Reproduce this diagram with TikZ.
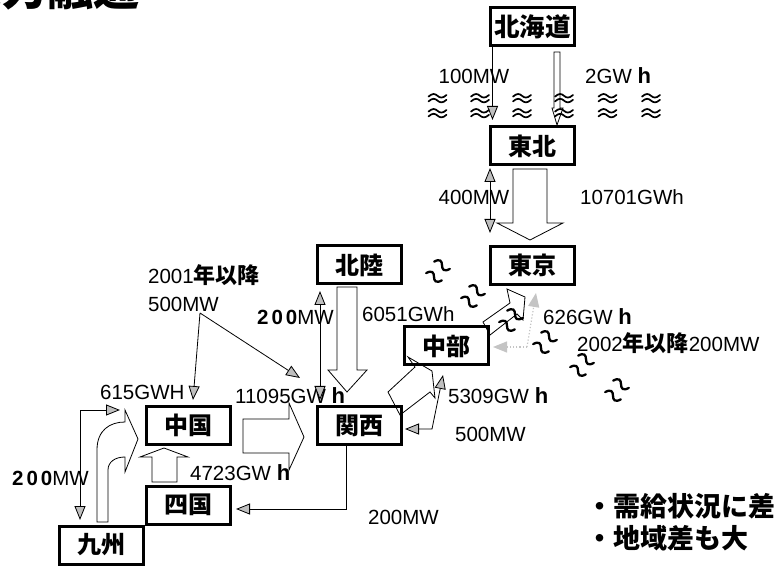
\documentclass[tikz,border=0pt]{standalone}
\usepackage{fontspec}
\setmainfont{Liberation Sans}
\newfontfamily\jp{Noto Sans CJK JP}
\usetikzlibrary{arrows.meta,calc}
\definecolor{dotcol}{HTML}{C4C4C4}
\newcommand\numsz{\fontsize{20.5}{24}\selectfont}
\newcommand\jpb[1]{{\jp\bfseries\fontsize{22}{24}\selectfont #1}}
\newcommand\bh{\textbf{\fontsize{22}{24}\selectfont h}}
\newcommand\btwo{\textbf{2\kern3pt0\kern3pt0}}
% one wave stroke centred at (0,#1) in the current frame
\newcommand\wavebig[1]{\draw[line cap=round, line width=2.3pt] (-8.5,#1+1.5) .. controls (-5.5,#1-4.5) and (-2.5,#1-3.5) .. (0,#1) .. controls (2.5,#1+3.5) and (5.5,#1+4.5) .. (8.5,#1-1.5);}
\newcommand\wavesmall[1]{\draw[line cap=round, line width=1.7pt] (-9,#1+0.8) .. controls (-5,#1-2.8) and (-2.5,#1-2.2) .. (0,#1) .. controls (2.5,#1+2.2) and (5,#1+2.8) .. (9,#1-0.8);}
\tikzset{
  box/.style={draw=black, line width=3pt, fill=white, minimum width=84pt, minimum height=38pt, inner sep=0pt, font=\jp\bfseries\fontsize{24}{24}\selectfont},
  lbl/.style={inner sep=0pt, font=\numsz},
  ln/.style={draw=black, line width=0.8pt},
  gl/.style={ln, -{Triangle[width=11pt,length=14pt,fill=lightgray]}},
  gll/.style={ln, {Triangle[width=11pt,length=14pt,fill=lightgray]}-{Triangle[width=11pt,length=14pt,fill=lightgray]}},
  blk/.style={draw=black, line width=0.8pt, line join=miter},
  dotg/.style={draw=dotcol, dotted, line width=1.2pt, -{Triangle[width=11pt,length=14pt,fill=dotcol,color=dotcol]}},
}
\begin{document}
\begin{tikzpicture}[x=1pt,y=-1pt]
\useasboundingbox (0,0) rectangle (777,569);
\fill[white] (0,0) rectangle (777,569);

% title (cut off at the top, as in the reference)
\node[anchor=base east, inner sep=0pt, font=\jp\bfseries\fontsize{46}{46}\selectfont] (ttl) at (140,6) {電力融通};

% regions
\node[box, font=\jp\bfseries\fontsize{25.5}{26}\selectfont] (hok) at (532.5,26.5) {北海道};
\node[box] (toh) at (532.5,146) {東北};
\node[box] (tok) at (532,265.5) {東京};
\node[box] (hkr) at (359.5,265) {北陸};
\node[box] (chb) at (446.5,346) {中部};
\node[box] (chg) at (188.5,425.5) {中国};
\node[box] (kns) at (359.5,425.5) {関西};
\node[box] (shk) at (188.5,505) {四国};
\node[box] (kyu) at (101.5,545) {九州};

% labels
\node[lbl, anchor=base] (l100) at (474,84) {100MW};
\node[lbl, anchor=base west] (l2g) at (585,84) {2GW \bh};
\node[lbl, anchor=base] (l400) at (474,205) {400MW};
\node[lbl, anchor=base] (l10701) at (632,205) {10701GWh};
\node[lbl, anchor=base west] (l2001) at (148,284) {2001\jpb{年以降}};
\node[lbl, anchor=base west] (l500a) at (148,312) {500MW};
\node[lbl, anchor=base west] (l200a) at (257,325) {\btwo MW};
\node[lbl, anchor=base west] (l6051) at (362,322) {6051GWh};
\node[lbl, anchor=base west] (l626) at (543,325) {626GW \bh};
\node[lbl, anchor=base west] (l2002) at (577,352) {2002\jpb{年以降}200MW};
\node[lbl, anchor=base west] (l5309) at (448,404) {5309GW \bh};
\node[lbl, anchor=base west] (l500b) at (455,442) {500MW};
\node[lbl, anchor=base west] (l615) at (100,400) {615GWH};
\node[lbl, anchor=base west] (l11095) at (235,404) {11095GW \bh};
\node[lbl, anchor=base west] (l200b) at (12,485) {\btwo MW};
\node[lbl, anchor=base west] (l4723) at (190,480) {4723GW \bh};
\node[lbl, anchor=base west] (l200c) at (368,524) {200MW};
\node[anchor=base west, inner sep=0pt, font=\jp\bfseries\fontsize{27}{30}\selectfont] (b1) at (586,516) {・需給状況に差};
\node[anchor=base west, inner sep=0pt, font=\jp\bfseries\fontsize{27}{30}\selectfont] (b2) at (586,548) {・地域差も大};

% Hokkaido - Tohoku
\draw[gl] ($(hok.south)+(-40,0)$) -- ($(toh.north)+(-40,-5.5)$);
\begin{scope}[shift={(toh.north)}]
  \draw[blk] (24.5,-0.5) -- (19.5,-17.5) -- (21.5,-17.5) -- (21.5,-73.5) -- (27.5,-73.5) -- (27.5,-17.5) -- (30.5,-17.5) -- cycle;
\end{scope}

% Tohoku - Tokyo
\begin{scope}[shift={(tok.north)}]
  \draw[blk] (-2,-5) -- (-35,-22) -- (-19,-22) -- (-19,-76) -- (15,-76) -- (15,-22) -- (31,-22) -- cycle;
\end{scope}
\draw[gll] ($(toh.south)+(-42.5,1.5)$) -- ($(tok.north)+(-42,-12)$);

% Hokuriku - Kansai
\begin{scope}[shift={(kns.north)}]
  \draw[blk] (-22.5,-118) -- (-22.5,-35) -- (-31.5,-35) -- (-12.5,-13) -- (7.5,-35) -- (-2.5,-35) -- (-2.5,-118) -- cycle;
\end{scope}
\draw[gll] ($(hkr.south)+(-39.5,5.5)$) -- ($(kns.north)+(-39.5,-5)$);

% 2001 500MW
\coordinate (s500) at (200,313);
\draw[gl] (s500) -- ($(chg.north)+(4.5,-5)$);
\draw[gl] (s500) -- ($(kns.north west)+(-16,-27)$);

% Kyushu - Chugoku
\draw[gll] ($(chg.west)+(-25,-15.5)$) -| ($(kyu.north)+(-21.5,-4.5)$);
\begin{scope}[shift={(kyu.north)}]
  \draw[blk] (-4.5,-2.5) -- (-4.5,-74.5) .. controls (-4.5,-94.5) and (8.5,-102.5) .. (23.5,-102.5) -- (23.5,-114.5) -- (36.5,-85.5) -- (23.5,-52.5) -- (23.5,-67.5) .. controls (13.5,-67.5) and (6.5,-62.5) .. (6.5,-54.5) -- (6.5,-2.5) -- cycle;
\end{scope}

% Shikoku - Chugoku
\begin{scope}[shift={(chg.south)}]
  \draw[blk] (-36.5,36) -- (-36.5,11) -- (-48.5,11) -- (-24.5,2) -- (-0.5,11) -- (-11.5,11) -- (-11.5,36) -- cycle;
\end{scope}

% Chugoku - Kansai
\begin{scope}[shift={(kns.west)}]
  \draw[blk] (-73,-6.5) -- (-27,-6.5) -- (-27,-22.5) -- (-12,11.5) -- (-27,44.5) -- (-27,27.5) -- (-73,27.5) -- cycle;
\end{scope}

% Kansai - Shikoku
\draw[gl] ($(kns.south)+(-13.5,0)$) |- ($(shk.east)+(4,4)$);

% Kansai - Chubu
\begin{scope}[shift={(kns.north east)}]
  \draw[blk] (-15,-13) -- (12,-38) -- (5,-48) -- (29,-34) -- (32,-7) -- (27,-13) -- (-3,10) -- cycle;
\end{scope}
\draw[gll] ($(kns.east)+(2,3.5)$) -- ($(kns.east)+(29,3.5)$) -- ($(chb.south)+(-3.5,8.5)$);

% Chubu - Tokyo
\begin{scope}[shift={(chb.north east)}]
  \draw[blk] (-7,-3.5) -- (20,-22.5) -- (17,-36.5) -- (35,-28.5) -- (33,-5.5) -- (27,-11.5) -- (0,9.5) -- cycle;
\end{scope}
\coordinate (dc) at (527,347);
\draw[dotg] (dc) -- ($(chb.east)+(3,1)$);
\draw[dotg] (dc) -- ($(tok.south)+(4,7)$);

% sea marks (horizontal, between Hokkaido and Tohoku)
\foreach \xx in {437.5,480,522,564,607.5,651}{
  \begin{scope}[shift={(\xx,0)}]
    \wavesmall{95.8}
    \wavesmall{100.6}
    \wavesmall{110.8}
    \wavesmall{115.6}
  \end{scope}
}
% sea marks (diagonal)
\foreach \xx/\yy in {438/271,473/296,511/320,545/342,582/365,617/390}{
  \begin{scope}[shift={(\xx,\yy)}, rotate=-35]
    \wavebig{-7}
    \wavebig{7}
  \end{scope}
}
\end{tikzpicture}
\end{document}
